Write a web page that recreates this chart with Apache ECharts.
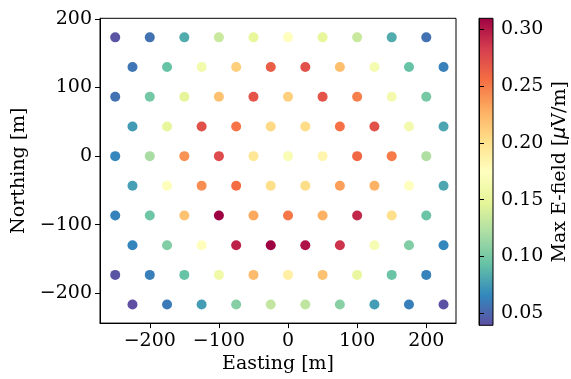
<!DOCTYPE html>
<html>
<head>
<meta charset="utf-8">
<script src="https://cdn.jsdelivr.net/npm/echarts@6/dist/echarts.min.js"></script>
<style>html,body{margin:0;padding:0;background:#fff;}#c{width:571px;height:379px;}</style>
</head>
<body>
<div id="c"></div>
<script>
// Station positions (hexagonal layout) and max E-field values [μV/m]
const eastingA = [-250, -200, -150, -100, -50, 0, 50, 100, 150, 200];
const eastingB = [-225, -175, -125, -75, -25, 25, 75, 125, 175, 225];
const northingRows = [173.2, 129.9, 86.6, 43.3, 0, -43.3, -86.6, -129.9, -173.2, -216.5];
const rowType = ['A', 'B', 'A', 'B', 'A', 'B', 'A', 'B', 'A', 'B'];
const field0 = [0.042, 0.056, 0.083, 0.134, 0.150, 0.175, 0.150, 0.134, 0.083, 0.056];
const field1 = [0.058, 0.094, 0.161, 0.210, 0.264, 0.272, 0.220, 0.164, 0.094, 0.063];
const field2 = [0.056, 0.099, 0.148, 0.218, 0.270, 0.210, 0.270, 0.248, 0.162, 0.100];
const field3 = [0.075, 0.150, 0.272, 0.253, 0.205, 0.203, 0.254, 0.272, 0.162, 0.080];
const field4 = [0.066, 0.120, 0.240, 0.275, 0.195, 0.167, 0.183, 0.259, 0.250, 0.123];
const field5 = [0.077, 0.172, 0.242, 0.256, 0.202, 0.203, 0.235, 0.226, 0.174, 0.081];
const field6 = [0.064, 0.097, 0.218, 0.3097, 0.231, 0.252, 0.227, 0.293, 0.202, 0.095];
const field7 = [0.065, 0.104, 0.176, 0.295, 0.3097, 0.302, 0.287, 0.166, 0.104, 0.066];
const field8 = [0.042, 0.062, 0.094, 0.158, 0.221, 0.188, 0.218, 0.153, 0.095, 0.064];
const field9 = [0.0394, 0.060, 0.076, 0.106, 0.131, 0.130, 0.107, 0.076, 0.062, 0.041];
const fieldRows = [field0, field1, field2, field3, field4, field5, field6, field7, field8, field9];
const xTicks = [-200, -100, 0, 100, 200];
const yTicks = [-200, -100, 0, 100, 200];
const cbTicks = [0.05, 0.10, 0.15, 0.20, 0.25, 0.30];
const vMin = 0.0394, vMax = 0.3097;
// Spectral_r colormap stops
const spectralR = ['#5e4fa2', '#3288bd', '#66c2a5', '#abdda4', '#e6f598', '#ffffbf', '#fee08b', '#fdae61', '#f46d43', '#d53e4f', '#9e0142'];

const data = [];
northingRows.forEach((y, r) => {
  const xs = rowType[r] === 'A' ? eastingA : eastingB;
  xs.forEach((x, i) => data.push([x, y, fieldRows[r][i]]));
});

const FONT = 'DejaVu Serif';
const fmtMinus = v => (v < 0 ? '\u2212' + Math.abs(v) : String(v));
const txt = { color: '#000', fontFamily: FONT, fontSize: 19 };

const chart = echarts.init(document.getElementById('c'), null, { renderer: 'canvas' });
chart.setOption({
  animation: false,
  backgroundColor: '#fff',
  grid: [
    { left: 100, top: 18.3, width: 356, height: 307, show: true, borderColor: '#000', borderWidth: 1, backgroundColor: 'transparent' },
    { left: 479, top: 18.3, width: 16, height: 307, show: true, borderColor: '#000', borderWidth: 1,
      backgroundColor: new echarts.graphic.LinearGradient(0, 1, 0, 0,
        spectralR.map((c, i) => ({ offset: i / (spectralR.length - 1), color: c }))) }
  ],
  xAxis: [
    { gridIndex: 0, type: 'value', min: -272, max: 243,
      name: 'Easting [m]', nameLocation: 'middle', nameGap: 31, nameTextStyle: txt,
      axisLine: { show: true, onZero: false, lineStyle: { color: '#000', width: 1 } },
      axisTick: { show: true, length: 5, customValues: xTicks, lineStyle: { color: '#000', width: 1 } },
      axisLabel: { customValues: xTicks, margin: 8, formatter: fmtMinus, ...txt },
      splitLine: { show: false } },
    { gridIndex: 1, type: 'value', show: false, min: 0, max: 1 }
  ],
  yAxis: [
    { gridIndex: 0, type: 'value', min: -243.5, max: 201,
      name: 'Northing [m]', nameLocation: 'middle', nameGap: 70, nameRotate: 90, nameTextStyle: txt,
      axisLine: { show: true, onZero: false, lineStyle: { color: '#000', width: 1 } },
      axisTick: { show: true, length: 5, customValues: yTicks, lineStyle: { color: '#000', width: 1 } },
      axisLabel: { customValues: yTicks, margin: 8, formatter: fmtMinus, ...txt },
      splitLine: { show: false } },
    { gridIndex: 1, type: 'value', min: vMin, max: vMax, position: 'right',
      name: '{n|Max E-field [}{i|\u03bc}{n|V/m]}', nameLocation: 'middle', nameGap: 58, nameRotate: 90,
      nameTextStyle: { ...txt, rich: { n: { ...txt }, i: { color: '#000', fontFamily: 'DejaVu Sans', fontStyle: 'italic', fontSize: 19 } } },
      axisLine: { show: true, lineStyle: { color: '#000', width: 1 } },
      axisTick: { show: true, length: 5, customValues: cbTicks, lineStyle: { color: '#000', width: 1 } },
      axisLabel: { customValues: cbTicks, margin: 8, formatter: v => v.toFixed(2), ...txt },
      splitLine: { show: false } }
  ],
  visualMap: {
    type: 'continuous', show: false, min: vMin, max: vMax, dimension: 2, seriesIndex: 0,
    inRange: { color: spectralR }
  },
  series: [{
    type: 'scatter', xAxisIndex: 0, yAxisIndex: 0, symbol: 'circle', symbolSize: 10,
    data: data, itemStyle: { opacity: 1 }
  }]
});
</script>
</body>
</html>
